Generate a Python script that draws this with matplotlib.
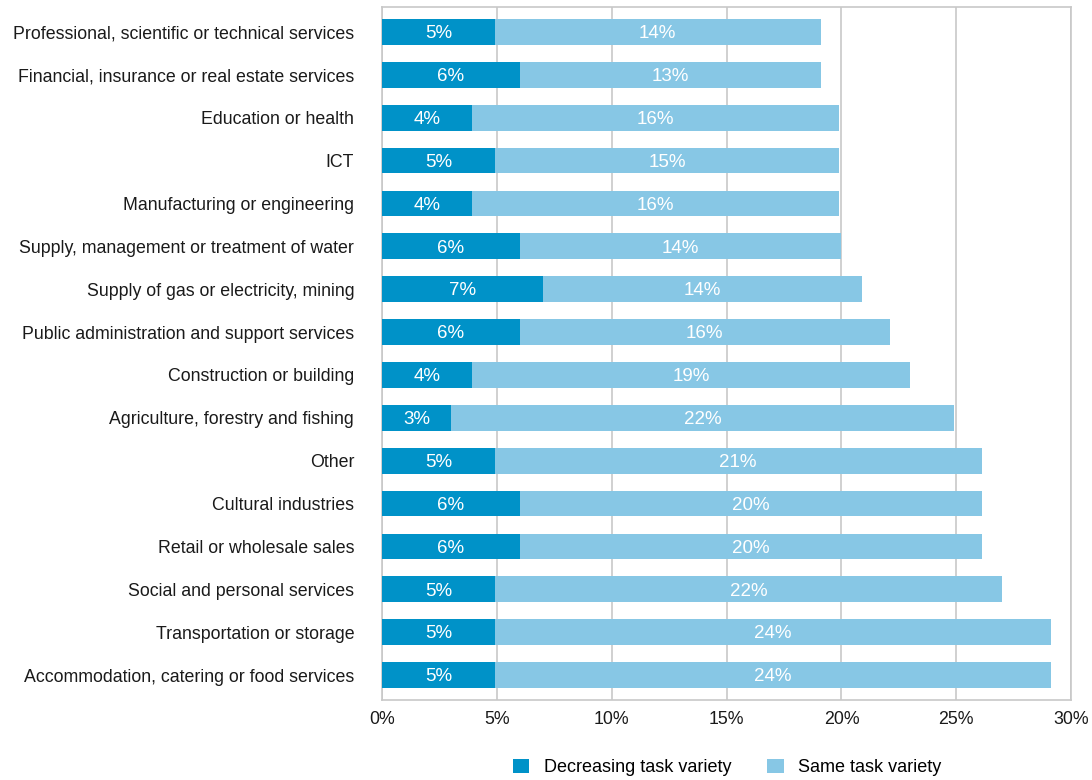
import matplotlib
matplotlib.use("Agg")
import matplotlib.pyplot as plt
from matplotlib.ticker import FuncFormatter

plt.rcParams['font.family'] = ['Liberation Sans', 'DejaVu Sans']

# Sectors, top to bottom as in the chart
sectors = [
    "Professional, scientific or technical services",
    "Financial, insurance or real estate services",
    "Education or health",
    "ICT",
    "Manufacturing or engineering",
    "Supply, management or treatment of water",
    "Supply of gas or electricity, mining",
    "Public administration and support services",
    "Construction or building",
    "Agriculture, forestry and fishing",
    "Other",
    "Cultural industries",
    "Retail or wholesale sales",
    "Social and personal services",
    "Transportation or storage",
    "Accommodation, catering or food services",
]
decreasing = [4.9, 6.0, 3.9, 4.9, 3.9, 6.0, 7.0, 6.0, 3.9, 3.0, 4.9, 6.0, 6.0, 4.9, 4.9, 4.9]
same = [14.2, 13.1, 16.0, 15.0, 16.0, 14.0, 13.9, 16.1, 19.1, 21.9, 21.2, 20.1, 20.1, 22.1, 24.2, 24.2]
dec_labels = ["5%", "6%", "4%", "5%", "4%", "6%", "7%", "6%", "4%", "3%", "5%", "6%", "6%", "5%", "5%", "5%"]
same_labels = ["14%", "13%", "16%", "15%", "16%", "14%", "14%", "16%", "19%", "22%", "21%", "20%", "20%", "22%", "24%", "24%"]

dark = '#0092c8'
light = '#87c7e5'
grid_col = '#c8c8c8'

fig = plt.figure(figsize=(10.92, 7.8), dpi=100)
ax = fig.add_axes([0.3498, 0.1026, 0.6312, 0.8884])

y = range(len(sectors))
b1 = ax.barh(y, decreasing, height=0.6, color=dark, label='Decreasing task variety', zorder=3)
b2 = ax.barh(y, same, left=decreasing, height=0.6, color=light, label='Same task variety', zorder=3)

# white value labels inside each segment
for bars, labels in ((b1, dec_labels), (b2, same_labels)):
    for rect, lab in zip(bars, labels):
        cx = rect.get_x() + rect.get_width() / 2
        cy = rect.get_y() + rect.get_height() / 2
        ax.text(cx, cy + 0.04, lab, ha='center', va='center', color='white', fontsize=13.5, zorder=4)

ax.set_xlim(0, 30)
ax.set_ylim(len(sectors) - 1 + 0.58, -0.58)
ax.set_xticks(range(0, 31, 5))
ax.xaxis.set_major_formatter(FuncFormatter(lambda v, p: f"{int(v)}%"))
ax.set_yticks(list(y))
ax.set_yticklabels(sectors)
ax.tick_params(axis='both', length=0, labelsize=12.8, colors='#1a1a1a')
ax.tick_params(axis='y', pad=20)
ax.tick_params(axis='x', pad=8)
ax.xaxis.grid(True, color=grid_col, linewidth=1.2, zorder=0)
for s in ax.spines.values():
    s.set_color(grid_col)
    s.set_linewidth(1.2)

fig.legend(handles=[b1, b2], loc='lower center', bbox_to_anchor=(0.666, -0.016), ncol=2,
           frameon=False, fontsize=13, handlelength=0.9, handleheight=0.9,
           columnspacing=2.0, handletextpad=0.8)

fig.savefig('out.png', dpi=100)
